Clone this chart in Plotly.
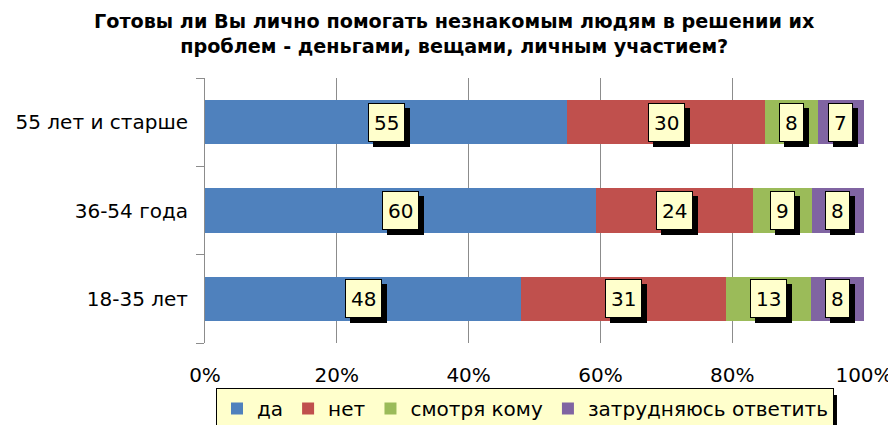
import plotly.graph_objects as go

# Survey: readiness to help strangers, by age group (answers, %)
groups = ["18-35 лет", "36-54 года", "55 лет и старше"]
answers = ["да", "нет", "смотря кому", "затрудняюсь ответить"]
yes_vals = [48, 60, 55]
no_vals = [31, 24, 30]
depends_vals = [13, 9, 8]
unsure_vals = [8, 8, 7]
x_ticks = [0, 20, 40, 60, 80, 100]
x_tick_labels = ["0%", "20%", "40%", "60%", "80%", "100%"]

colors = ["#4F81BD", "#C0504D", "#9BBB59", "#8064A2"]
series = [yes_vals, no_vals, depends_vals, unsure_vals]

# shares normalised to 100% per group (Excel 100%-stacked behaviour)
totals = [sum(v) for v in zip(*series)]
shares = [[v / t * 100 for v, t in zip(vals, totals)] for vals in series]

fig = go.Figure()
for name, vals, share, color in zip(answers, series, shares, colors):
    fig.add_trace(
        go.Bar(
            y=groups,
            x=share,
            name=name,
            orientation="h",
            marker=dict(color=color, line=dict(width=0)),
            customdata=vals,
            hovertemplate="%{y}<br>" + name + ": %{customdata}<extra></extra>",
        )
    )

# value labels: yellow boxes with a black drop shadow
label_font = dict(family="DejaVu Sans", size=20, color="black")
for gi, g in enumerate(groups):
    left = 0.0
    for si in range(len(series)):
        w = shares[si][gi]
        cx = left + w / 2
        txt = str(series[si][gi])
        for shadow in (True, False):
            fig.add_annotation(
                x=cx, y=g, xref="x", yref="y",
                text=txt, showarrow=False,
                font=label_font,
                bgcolor="black" if shadow else "#FFFFCC",
                bordercolor="black", borderwidth=1, borderpad=5,
                height=27,
                xshift=5 if shadow else 0,
                yshift=-5 if shadow else 0,
            )
        left += w

# legend drop shadow
fig.add_shape(
    type="rect", xref="paper", yref="paper", layer="above",
    x0=0.0273, x1=0.959, y0=-0.317, y1=-0.196,
    fillcolor="black", line=dict(width=0),
)

fig.update_layout(
    width=896,
    height=425,
    barmode="stack",
    bargap=0.5,
    title=dict(
        text="Готовы ли Вы лично помогать незнакомым людям в решении их<br>"
             "проблем - деньгами, вещами, личным участием?",
        x=0.498, xanchor="center", y=0.954, yanchor="middle",
        font=dict(family="DejaVu Sans", size=19.2, color="black", weight="bold"),
    ),
    font=dict(family="DejaVu Sans", size=20, color="black"),
    xaxis=dict(
        range=[0, 100],
        tickvals=x_ticks,
        ticktext=x_tick_labels,
        showgrid=True,
        gridcolor="#8C8C8C",
        gridwidth=1,
        zeroline=False,
        showline=False,
        ticks="",
        ticklabelstandoff=18,
        automargin=False,
    ),
    yaxis=dict(
        showline=True,
        linecolor="#8C8C8C",
        linewidth=1,
        ticks="outside",
        tickson="boundaries",
        ticklen=8,
        tickcolor="#8C8C8C",
        ticklabelstandoff=12,
        automargin=False,
    ),
    legend=dict(
        orientation="h",
        xref="container", yref="container",
        x=517 / 896, xanchor="center",
        y=1 - 380 / 425, yanchor="top",
        bgcolor="#FFFFCC",
        bordercolor="black",
        borderwidth=1,
        traceorder="normal",
    ),
    plot_bgcolor="white",
    paper_bgcolor="white",
    margin=dict(t=70, b=90, l=197, r=40),
    showlegend=True,
)

fig.write_html("out.html")
